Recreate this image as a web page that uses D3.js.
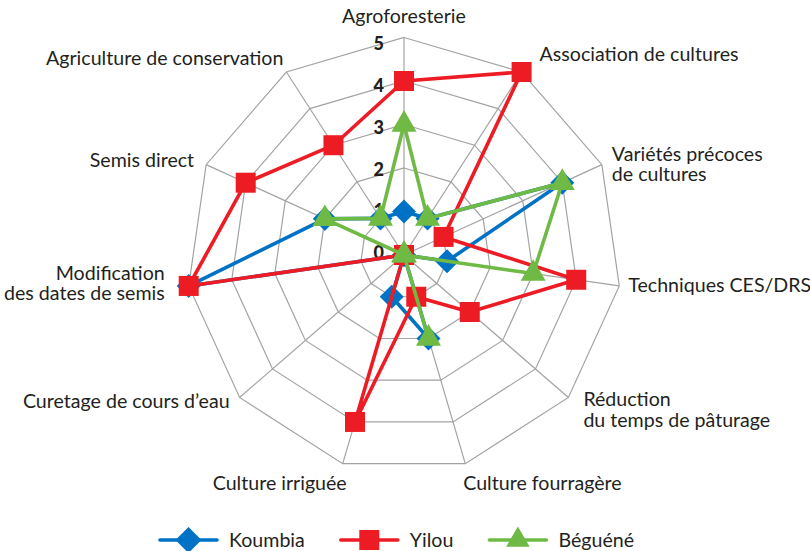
<!DOCTYPE html>
<html>
<head>
<meta charset="utf-8">
<script src="https://cdn.jsdelivr.net/npm/d3@7"></script>
<style>
  body { margin: 0; background: #fff; }
  text { font-family: Lato, "Open Sans", sans-serif; fill: #231f20; }
</style>
</head>
<body>
<svg id="chart" width="810" height="551"></svg>
<script>
// axis labels (one entry per spoke, clockwise from the top)
const axisLabels = [
  ['Agroforesterie'],
  ['Association de cultures'],
  ['Variétés précoces', 'de cultures'],
  ['Techniques CES/DRS'],
  ['Réduction', 'du temps de pâturage'],
  ['Culture fourragère'],
  ['Culture irriguée'],
  ['Curetage de cours d’eau'],
  ['Modification', 'des dates de semis'],
  ['Semis direct'],
  ['Agriculture de conservation'],
];

const koumbia = [1, 1, 4, 1, 0, 2, 1, 0, 5, 2, 1];
const yilou = [4, 5, 1, 4, 2, 1, 4, 0, 5, 4, 3];
const beguene = [3, 1, 4, 3, 0, 2, 0, 0, 0, 2, 1];

const seriesNames = ['Koumbia', 'Yilou', 'Béguéné'];
const ticks = [0, 1, 2, 3, 4, 5];

// styling / layout
const colors = ['#0072c6', '#ed1c24', '#6fba44'];
const cx = 404;
const cy = 255;
const radius = 217.5;
const fontSize = '19.6px';

// label placement next to each outer vertex: [anchor, dx, dy]
const labelLayout = [
  ['middle', 0, -14.5],
  ['start', 18, -11],
  ['start', 10, -4],
  ['start', 9, 6],
  ['start', 15, 9],
  ['start', -2, 26],
  ['end', 4, 26],
  ['end', -10, 11],
  ['end', -24, -6],
  ['end', -12, 2],
  ['end', -3, -7],
];

const svg = d3.select('#chart');
const n = axisLabels.length;
const angle = (i) => (i * 2 * Math.PI) / n;

const r = d3.scaleLinear().domain([0, 5]).range([0, radius]);
const tickY = d3.scaleLinear().domain([0, 5]).range([cy - 2.5, cy - 211]);

const px = (i, v) => cx + r(v) * Math.sin(angle(i));
const py = (i, v) => cy - r(v) * Math.cos(angle(i));

// grid
const gridGrp = svg.append('g').attr('class', 'grid');
const ringLine = d3
  .line()
  .x((d) => d[0])
  .y((d) => d[1])
  .curve(d3.curveLinearClosed);

ticks.slice(1).forEach((t) => {
  const pts = d3.range(n).map((i) => [px(i, t), py(i, t)]);
  gridGrp
    .append('path')
    .attr('d', ringLine(pts))
    .attr('fill', 'none')
    .attr('stroke', '#a3a3a3')
    .attr('stroke-width', 1.2);
});

gridGrp
  .selectAll('line')
  .data(d3.range(n))
  .enter()
  .append('line')
  .attr('x1', cx)
  .attr('y1', cy)
  .attr('x2', (i) => px(i, 5))
  .attr('y2', (i) => py(i, 5))
  .attr('stroke', '#a3a3a3')
  .attr('stroke-width', 1.2);

// axis labels
const labelGrp = svg.append('g').attr('class', 'axisLabels');
axisLabels.forEach((lines, i) => {
  const [anchor, dx, dy] = labelLayout[i];
  const t = labelGrp
    .append('text')
    .attr('x', px(i, 5) + dx)
    .attr('y', py(i, 5) + dy)
    .attr('text-anchor', anchor)
    .style('font-size', fontSize);
  lines.forEach((l, k) => {
    t.append('tspan')
      .attr('x', px(i, 5) + dx)
      .attr('dy', k === 0 ? 0 : 20.5)
      .text(l);
  });
});

// tick labels
svg
  .append('g')
  .attr('class', 'ticks')
  .selectAll('text')
  .data(ticks)
  .enter()
  .append('text')
  .attr('x', cx - 20)
  .attr('y', (d) => tickY(d))
  .attr('dy', '0.36em')
  .attr('text-anchor', 'end')
  .style('font-size', '18px')
  .style('font-weight', 900)
  .text((d) => d);

// series
const allSeries = [koumbia, yilou, beguene];
const symbols = [
  { type: d3.symbolSquare, size: 289, rotate: 45 },
  { type: d3.symbolSquare, size: 400, rotate: 0 },
  { type: d3.symbolTriangle, size: 271, rotate: 0 },
];
const legendSymbols = [
  { type: d3.symbolSquare, size: 340, rotate: 45 },
  { type: d3.symbolSquare, size: 400, rotate: 0 },
  { type: d3.symbolTriangle, size: 240, rotate: 0 },
];

const seriesLine = d3
  .line()
  .x((d) => d.x)
  .y((d) => d.y)
  .curve(d3.curveLinearClosed);

allSeries.forEach((vals, s) => {
  const pts = vals.map((v, i) => ({ x: px(i, v), y: py(i, v) }));
  const g = svg.append('g').attr('class', 'series-' + s);
  g.append('path')
    .attr('d', seriesLine(pts))
    .attr('fill', 'none')
    .attr('stroke', colors[s])
    .attr('stroke-width', 3.6)
    .attr('stroke-linejoin', 'round');
  const sym = symbols[s];
  g.selectAll('path.marker')
    .data(pts)
    .enter()
    .append('path')
    .attr('class', 'marker')
    .attr('d', d3.symbol().type(sym.type).size(sym.size))
    .attr('transform', (d) => `translate(${d.x},${d.y}) rotate(${sym.rotate})`)
    .attr('fill', colors[s]);
});

// legend
const legendY = 540;
const lineLen = 57;
const legend = svg.append('g').attr('class', 'legend');
const items = seriesNames.map((name, s) => {
  const g = legend.append('g');
  g.append('line')
    .attr('x1', 0)
    .attr('x2', lineLen)
    .attr('y1', 0)
    .attr('y2', 0)
    .attr('stroke', colors[s])
    .attr('stroke-width', 3.6)
    .attr('stroke-linecap', 'round');
  const sym = legendSymbols[s];
  g.append('path')
    .attr('d', d3.symbol().type(sym.type).size(sym.size))
    .attr('transform', `translate(${lineLen / 2},0) rotate(${sym.rotate})`)
    .attr('fill', colors[s]);
  const t = g
    .append('text')
    .attr('x', lineLen + 12)
    .attr('y', 6.5)
    .style('font-size', fontSize)
    .text(name);
  return { g, w: lineLen + 12 + t.node().getComputedTextLength() };
});

const gap = 36;
const totalW = d3.sum(items, (d) => d.w) + gap * (items.length - 1);
let xPos = 397 - totalW / 2;
items.forEach((it) => {
  it.g.attr('transform', `translate(${xPos},${legendY})`);
  xPos += it.w + gap;
});
</script>
</body>
</html>
